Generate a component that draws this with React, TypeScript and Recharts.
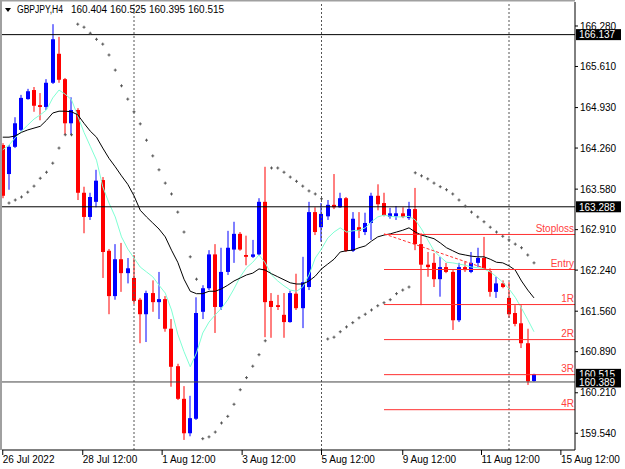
import React from 'react';
import { ComposedChart, Bar, Line, XAxis, YAxis, ReferenceLine } from 'recharts';

document.body.style.margin = '0';

// GBPJPY H4 candles
const opens = [164.31, 163.83, 164.28, 164.56, 165.07, 165.22, 164.97, 164.94, 165.34, 165.82,
  165.40, 164.67, 164.89, 163.52, 163.12, 163.37, 163.73, 162.56, 161.81, 162.42,
  162.19, 162.11, 161.75, 161.51, 161.86, 161.71, 161.76, 161.27, 160.65, 160.11,
  159.54, 159.78, 161.55, 161.94, 162.50, 161.63, 162.21, 162.58, 162.84, 162.49,
  162.46, 162.50, 163.37, 161.73, 161.66, 161.50, 161.38, 161.85, 161.61, 161.96,
  163.20, 162.95, 163.13, 163.32, 163.28, 163.43, 162.56, 162.95, 162.87, 163.02,
  163.47, 163.35, 163.12, 163.13, 163.18, 163.10, 163.25, 162.67, 162.33, 162.36,
  162.09, 162.29, 162.21, 161.41, 162.29, 162.21, 162.36, 162.44, 162.22, 161.88,
  162.02, 161.78, 161.53, 161.36, 161.03, 160.404];
const highs = [164.34, 164.31, 164.77, 165.14, 165.24, 165.27, 165.17, 165.40, 166.31, 166.10,
  165.42, 165.10, 164.92, 163.62, 163.52, 163.90, 163.78, 162.59, 162.67, 162.69,
  162.44, 162.49, 161.78, 161.90, 162.07, 162.21, 161.81, 161.43, 160.69, 160.32,
  160.16, 161.79, 161.99, 162.57, 162.67, 162.61, 162.89, 163.04, 162.87, 162.81,
  162.74, 163.43, 163.95, 161.86, 161.83, 161.86, 161.90, 162.18, 162.46, 163.37,
  163.28, 163.35, 163.40, 163.83, 163.52, 163.45, 163.20, 163.20, 163.19, 163.52,
  163.66, 163.52, 163.27, 163.30, 163.28, 163.37, 163.60, 162.85, 162.54, 162.52,
  162.46, 162.36, 162.24, 162.36, 162.38, 162.54, 162.61, 162.79, 162.27, 162.13,
  162.07, 162.04, 161.66, 161.66, 161.27, 160.525];
const lows = [163.43, 163.57, 164.26, 164.54, 165.06, 164.86, 164.72, 164.89, 165.32, 165.34,
  164.48, 164.48, 163.40, 162.85, 163.07, 163.28, 162.11, 161.51, 161.75, 161.88,
  162.02, 161.68, 161.03, 161.05, 161.55, 161.43, 161.22, 160.31, 160.09, 159.43,
  159.49, 159.76, 161.43, 161.91, 161.20, 161.58, 162.16, 162.36, 162.56, 162.32,
  162.44, 162.49, 161.13, 161.12, 161.58, 161.12, 161.37, 161.58, 161.28, 161.91,
  162.82, 162.71, 163.07, 163.25, 163.27, 162.54, 162.54, 162.77, 162.82, 162.74,
  163.23, 163.13, 163.09, 163.07, 163.10, 163.07, 162.57, 161.66, 162.13, 161.96,
  161.80, 162.19, 161.25, 161.38, 162.21, 162.19, 162.29, 162.26, 161.80, 161.78,
  161.94, 161.45, 161.31, 160.95, 160.34, 160.395];
const closes = [163.47, 164.28, 164.67, 165.09, 165.20, 164.96, 164.94, 165.34, 166.06, 165.39,
  164.67, 164.89, 163.52, 163.12, 163.45, 163.72, 162.54, 161.81, 162.42, 162.19,
  162.27, 161.73, 161.51, 161.86, 161.71, 161.76, 161.27, 160.64, 160.11, 159.54,
  159.79, 161.53, 161.94, 162.50, 161.63, 162.21, 162.61, 162.84, 162.58, 162.46,
  162.50, 163.37, 161.71, 161.63, 161.63, 161.38, 161.86, 161.61, 162.04, 163.20,
  162.87, 163.17, 163.32, 163.28, 163.43, 162.56, 163.09, 162.89, 163.02, 163.47,
  163.33, 163.15, 163.18, 163.18, 163.12, 163.25, 162.67, 162.33, 162.29, 162.09,
  162.29, 162.21, 161.41, 162.29, 162.24, 162.36, 162.44, 162.27, 161.88, 162.02,
  161.96, 161.51, 161.35, 161.03, 160.40, 160.515];

// slow MA (black) and fast MA (aquamarine)
const maSlow = [164.44, 164.44, 164.46, 164.52, 164.56, 164.59, 164.62, 164.72, 164.84, 164.87,
  164.87, 164.86, 164.81, 164.67, 164.54, 164.44, 164.26, 164.09, 163.95, 163.80,
  163.66, 163.47, 163.23, 163.12, 163.02, 162.92, 162.79, 162.57, 162.37, 162.09,
  161.89, 161.85, 161.85, 161.89, 161.89, 161.93, 161.99, 162.06, 162.11, 162.16,
  162.19, 162.26, 162.24, 162.18, 162.13, 162.08, 162.03, 162.01, 162.01, 162.06,
  162.14, 162.26, 162.34, 162.42, 162.54, 162.56, 162.57, 162.61, 162.64, 162.72,
  162.79, 162.82, 162.84, 162.87, 162.90, 162.94, 162.87, 162.82, 162.79, 162.76,
  162.69, 162.61, 162.56, 162.51, 162.49, 162.47, 162.46, 162.46, 162.42, 162.37,
  162.36, 162.31, 162.24, 162.06, 161.91, 161.78];
const maFast = [164.23, 164.31, 164.43, 164.54, 164.64, 164.74, 164.81, 164.89, 165.09, 165.22,
  165.15, 165.06, 164.79, 164.52, 164.29, 164.06, 163.62, 163.35, 163.12, 162.79,
  162.59, 162.44, 162.29, 162.21, 162.13, 161.99, 161.86, 161.58, 161.18, 160.89,
  160.64, 160.87, 161.20, 161.38, 161.50, 161.61, 161.75, 161.93, 162.13, 162.28,
  162.37, 162.49, 162.36, 162.16, 162.06, 161.98, 161.91, 161.89, 161.96, 162.16,
  162.44, 162.59, 162.77, 162.87, 162.94, 162.87, 162.89, 162.90, 162.94, 163.04,
  163.12, 163.15, 163.13, 163.12, 163.12, 163.13, 163.07, 162.92, 162.74, 162.56,
  162.46, 162.37, 162.36, 162.34, 162.32, 162.29, 162.28, 162.26, 162.21, 162.13,
  162.04, 161.93, 161.79, 161.61, 161.42, 161.22];
// parabolic SAR dots
const sar = [null, 163.35, 163.40, 163.45, 163.53, 163.63, 163.76, 163.86, 164.01, 164.26,
  164.48, 164.48, 166.31, 166.26, 166.16, 166.06, 165.98, 165.80, 165.55, 165.29,
  165.07, 164.86, 164.66, 164.39, 164.13, 163.90, 163.68, 163.50, 163.20, 162.87,
  162.46, 162.09, 159.45, 159.48, 159.56, 159.71, 159.82, 160.02, 160.26, 160.46,
  160.65, 160.84, 161.07, 163.93, 163.93, 163.86, 163.78, 163.71, 163.63, 163.55,
  163.50, 163.42, 161.10, 161.13, 161.22, 161.30, 161.37, 161.45, 161.51, 161.58,
  161.65, 161.70, 161.75, 161.85, 161.91, 161.96, 163.85, 163.80, 163.75, 163.68,
  163.62, 163.57, 163.50, 163.40, 163.30, 163.20, 163.12, 163.04, 162.95, 162.87,
  162.80, 162.74, 162.67, 162.61, 162.49, 162.36];

const timeTicks = [0, 12.8, 25.5, 38.3, 51, 64, 76.6, 89.3];
const timeLabels = ['26 Jul 2022', '28 Jul 12:00', '1 Aug 12:00', '3 Aug 12:00', '5 Aug 12:00',
  '9 Aug 12:00', '11 Aug 12:00', '15 Aug 12:00'];
const priceTicks = [159.54, 160.21, 160.89, 161.56, 162.24, 162.91, 163.58, 164.26, 164.93, 165.61, 166.28];

const blackLines = [166.137, 163.288];
const bidLine = 160.389;
const bidPrice = 160.515;
const levelNames = ['Stoploss', 'Entry', '1R', '2R', '3R', '4R'];
const levelPrices = [162.83, 162.25, 161.67, 161.09, 160.51, 159.93];
const levelFrom = 61;
const tradeFrom = { x: 61, y: 162.84 };
const tradeTo = { x: 78, y: 162.24 };
const separators = [21, 51, 81];

const X_MIN = -0.12;
const X_MAX = 91.56;
const Y_MIN = 159.263;
const Y_MAX = 166.677;
const FONT = 'Liberation Sans, Arial, sans-serif';

const rows = opens.map((o, i) => ({
  i,
  o,
  h: highs[i],
  l: lows[i],
  c: closes[i],
  range: [lows[i], highs[i]],
  slow: maSlow[i],
  fast: maFast[i],
  sar: sar[i],
}));

const Candle = (props: any) => {
  const { x, y, width, height, payload } = props;
  if (x == null || !payload) return <g />;
  const top = Math.min(y, y + height);
  const span = Math.abs(height);
  const k = span / (payload.h - payload.l);
  const left = Math.round(x + width / 2 - 2);
  const bull = payload.c >= payload.o;
  const color = bull ? '#0000ff' : '#ff0000';
  const bodyTop = top + (payload.h - Math.max(payload.o, payload.c)) * k;
  const bodyH = Math.max(1, Math.abs(payload.o - payload.c) * k);
  return (
    <g>
      <line x1={left + 2} x2={left + 2} y1={top} y2={top + span} stroke={color} strokeWidth={1} />
      <rect x={left} y={bodyTop} width={4} height={bodyH} fill={color} />
    </g>
  );
};

const sarDot = (p: any) => {
  if (p.payload?.sar == null || p.cy == null) return <g key={p.key} />;
  return (
    <g key={p.key}>
      <line x1={p.cx - 1.5} x2={p.cx + 1.5} y1={p.cy} y2={p.cy} stroke="#555" strokeWidth={1} />
      <line x1={p.cx} x2={p.cx} y1={p.cy - 1.5} y2={p.cy + 1.5} stroke="#555" strokeWidth={1} />
    </g>
  );
};

const TimeTick = (props: any) => {
  const { x, y, payload } = props;
  const idx = timeTicks.indexOf(payload.value);
  return (
    <text x={x} y={y + 6} textAnchor="start" fontSize={10} fontFamily={FONT} fill="#000">
      {timeLabels[idx]}
    </text>
  );
};

const PriceTag = (props: any) => {
  const { viewBox, price } = props;
  if (!viewBox) return null;
  const right = viewBox.x + viewBox.width;
  return (
    <g>
      <rect x={right + 1} y={viewBox.y - 5.5} width={45} height={11} fill="#000" />
      <text x={right + 4} y={viewBox.y + 3.8} fontSize={10} fontFamily={FONT} fill="#fff">
        {price.toFixed(3)}
      </text>
    </g>
  );
};

const LevelTag = (props: any) => {
  const { viewBox, text } = props;
  if (!viewBox) return null;
  return (
    <text x={viewBox.x + viewBox.width - 1} y={viewBox.y - 2.5} textAnchor="end"
      fontSize={10} fontFamily={FONT} fill="#ff4040">
      {text}
    </text>
  );
};

export default function App() {
  const last = opens.length - 1;
  const head = [opens[last], highs[last], lows[last], closes[last]];
  return (
    <div style={{ position: 'relative', width: 625, height: 469, background: '#fff' }}>
      <ComposedChart width={625} height={469} data={rows}
        margin={{ top: 2, right: 0, bottom: 0, left: 2 }}>
        <XAxis dataKey="i" type="number" domain={[X_MIN, X_MAX]} allowDataOverflow
          ticks={timeTicks} interval={0} tick={<TimeTick />} height={19}
          axisLine={{ stroke: '#000' }} tickLine={{ stroke: '#000' }} tickSize={5} />
        <YAxis orientation="right" type="number" domain={[Y_MIN, Y_MAX]} allowDataOverflow
          ticks={priceTicks} interval={0} width={50} tickSize={3}
          tickFormatter={(v: number) => v.toFixed(3)}
          tick={{ fontSize: 10, fill: '#000', fontFamily: FONT }}
          axisLine={{ stroke: '#000' }} tickLine={{ stroke: '#000' }} />
        {separators.map((s) => (
          <ReferenceLine key={'sep' + s} x={s} stroke="#555" strokeDasharray="2 2" />
        ))}
        <Line dataKey="fast" stroke="#7fffd4" strokeWidth={1} dot={false} activeDot={false}
          isAnimationActive={false} />
        <Line dataKey="slow" stroke="#000" strokeWidth={1} dot={false} activeDot={false}
          isAnimationActive={false} />
        <Bar dataKey="range" barSize={4} shape={<Candle />} isAnimationActive={false} />
        <Line dataKey="sar" stroke="none" dot={sarDot} activeDot={false}
          isAnimationActive={false} />
        {blackLines.map((v) => (
          <ReferenceLine key={'bl' + v} y={v} stroke="#000" label={<PriceTag price={v} />} />
        ))}
        {levelPrices.map((v, k) => (
          <ReferenceLine key={'lv' + k} ifOverflow="visible" stroke="#ff3030"
            segment={[{ x: levelFrom, y: v }, { x: X_MAX, y: v }]}
            label={<LevelTag text={levelNames[k]} />} />
        ))}
        <ReferenceLine ifOverflow="visible" stroke="#ff3030" strokeDasharray="3 2"
          segment={[tradeFrom, tradeTo]} />
        <ReferenceLine y={bidPrice} stroke="none" label={<PriceTag price={bidPrice} />} />
        <ReferenceLine y={bidLine} stroke="#444" label={<PriceTag price={bidLine} />} />
      </ComposedChart>
      <svg width={625} height={469}
        style={{ position: 'absolute', left: 0, top: 0, pointerEvents: 'none' }}>
        <rect x={0} y={0} width={575} height={1.5} fill="#a0a0a0" />
        <rect x={0} y={0} width={2} height={450} fill="#a0a0a0" />
        <polygon points="5,8 11,8 8,12" fill="#000" />
        <text x={17} y={13} fontSize={10} fontFamily={FONT} fill="#000"
          textLength={46} lengthAdjust="spacingAndGlyphs">GBPJPY,H4</text>
        {head.map((v, k) => (
          <text key={k} x={71 + 39 * k} y={13} fontSize={10} fontFamily={FONT} fill="#000">
            {v.toFixed(3)}
          </text>
        ))}
      </svg>
    </div>
  );
}
